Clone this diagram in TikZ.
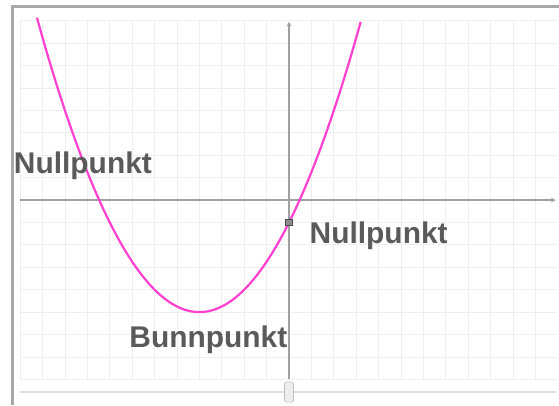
\documentclass[tikz,border=0pt]{standalone}
\usepackage{fontspec}
\setmainfont{Liberation Sans}
\usetikzlibrary{arrows.meta}
\definecolor{gridgray}{HTML}{EEEEEE}
\definecolor{axisgray}{HTML}{A0A0A0}
\definecolor{framegray}{HTML}{A8A8A8}
\definecolor{labelgray}{HTML}{5A5A5A}
\definecolor{curvepink}{HTML}{FF40D0}
\definecolor{slidergray}{HTML}{E2DDD8}
\tikzset{
    punktlabel/.style={text=labelgray, font=\fontsize{19}{22}\selectfont\bfseries, inner sep=0pt, anchor=base},
    punkt/.style={draw=black!70, fill=black!45, minimum size=4pt, inner sep=0pt, line width=0.6pt}
}

\begin{document}
\begin{tikzpicture}[x=0.5cm, y=0.5cm]
        \useasboundingbox[fill=white] (-12.9,-9.15) rectangle (12.05,8.93);
        % Below is the grid and the frame.
            \draw[gridgray, line width=0.5pt, step=0.5cm] (-12,-8) grid (11.9,8);
            \draw[framegray, line width=1.6pt] (-12.34,-9.15) -- (-12.34,8.64) -- (12.05,8.64);
        % This draws the axes.
            \draw[axisgray, line width=0.8pt, -{Stealth[length=3pt,width=3pt]}] (-12,0) -- (11.9,0);
            \draw[axisgray, line width=0.8pt, -{Stealth[length=3pt,width=3pt]}] (0,-8) -- (0,7.95);
        % The parabola.
            \draw[curvepink, line width=1.4pt, domain=-11.25:3.2, samples=120, smooth] plot (\x, {0.25*(\x+4)^2-5});
        % Slider at the bottom.
            \draw[slidergray, line width=1.4pt] (-12,-8.57) -- (11.9,-8.57);
            \node[draw=black!25, fill=black!7, rounded corners=1pt, minimum width=0.2cm, minimum height=0.45cm, inner sep=0pt] (knob) at (0,-8.57) {};
        % Point and labels.
            \node[punkt] (nullB) at (0,-1) {};
            \node[punktlabel] (labelA) at (-9.2,1.2) {Nullpunkt};
            \node[punktlabel] (labelB) at (4.0,-1.92) {Nullpunkt};
            \node[punktlabel] (labelC) at (-3.6,-6.56) {Bunnpunkt};
    \end{tikzpicture}
\end{document}
